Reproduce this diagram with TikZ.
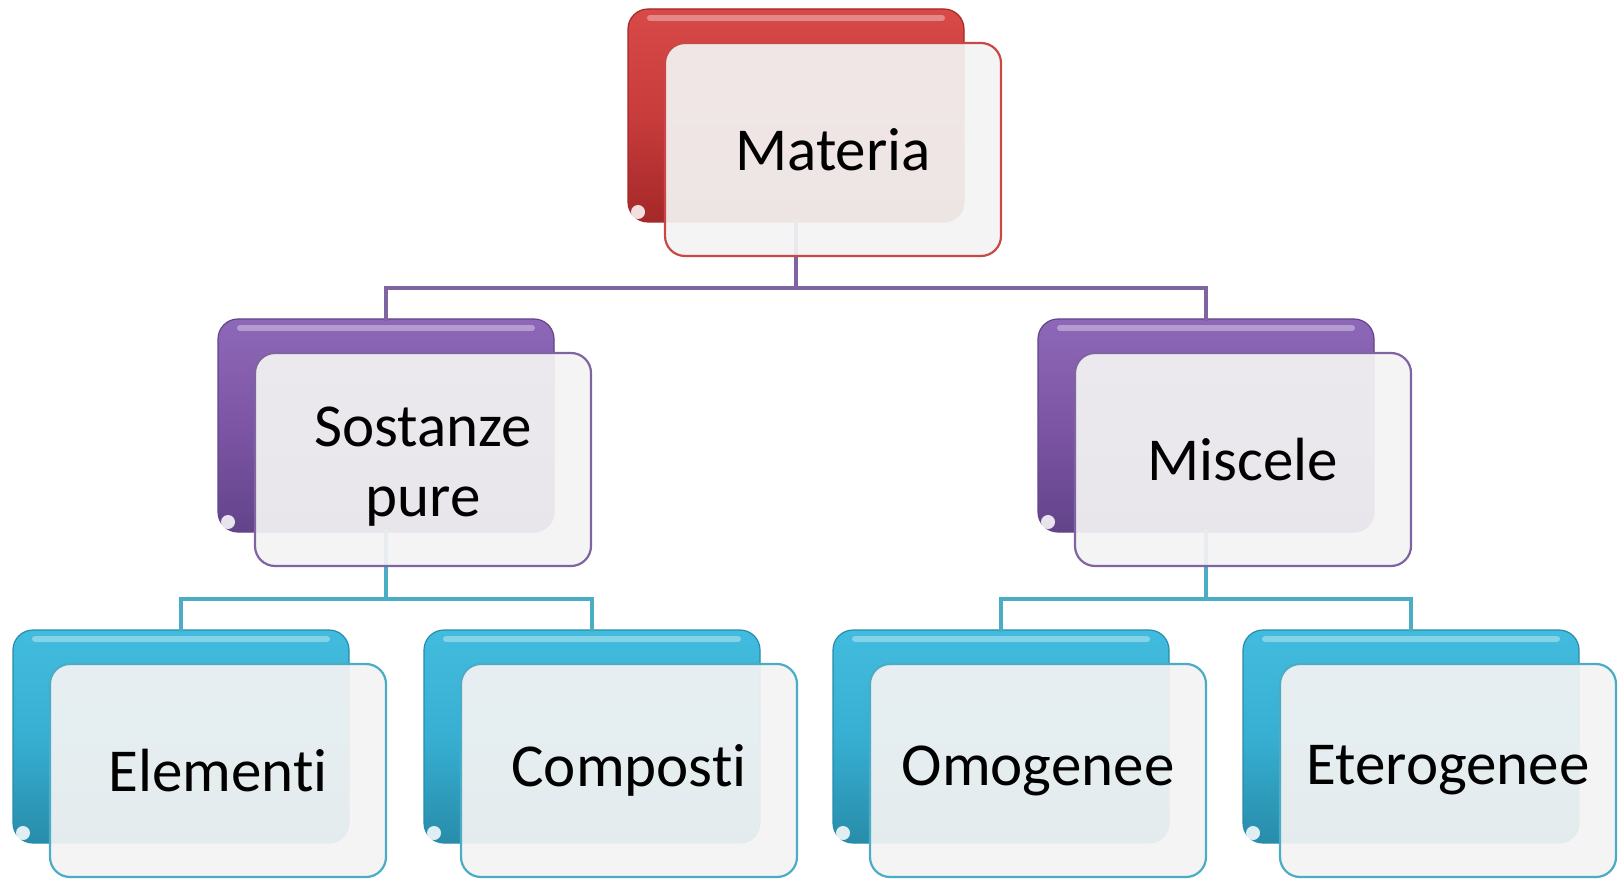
\documentclass[tikz,border=0pt]{standalone}
\usepackage{fontspec}
\setmainfont{Carlito}[Ligatures=NoCommon]
\usetikzlibrary{calc}
\definecolor{rdA}{RGB}{216,74,72}
\definecolor{rdM}{RGB}{200,60,60}
\definecolor{rdB}{RGB}{165,40,40}
\definecolor{rdL}{RGB}{200,72,70}
\definecolor{puA}{RGB}{142,104,184}
\definecolor{puM}{RGB}{125,85,165}
\definecolor{puB}{RGB}{98,68,138}
\definecolor{puL}{RGB}{128,100,162}
\definecolor{cyA}{RGB}{66,188,222}
\definecolor{cyM}{RGB}{55,175,210}
\definecolor{cyB}{RGB}{40,140,170}
\definecolor{cyL}{RGB}{75,172,198}
\definecolor{frontfill}{RGB}{243,243,243}
\tikzset{
  every node/.style={inner sep=0pt, outer sep=0pt},
  backbox/.style={rounded corners=10pt, minimum width=168pt, minimum height=106.5pt,
    draw=#1B, line width=0.6pt, top color=#1A, bottom color=#1B, middle color=#1M},
  frontbox/.style={rounded corners=10pt, minimum width=168pt, minimum height=106.5pt,
    draw=#1L, line width=1.1pt, fill=frontfill, fill opacity=0.93, text opacity=1,
    align=center, font=\fontsize{30.5}{35}\selectfont},
  con/.style={line width=1.8pt, draw=#1, line cap=rect},
  gloss/.style={white, opacity=0.35, line width=3pt, line cap=round},
  spot/.style={white, opacity=0.85}
}
\begin{document}
\begin{tikzpicture}[x=0.5pt, y=-0.5pt]
\useasboundingbox (0,0) rectangle (1620,881);
% back boxes
\node[backbox=rd] (mb) at (796,115.5) {};
\node[backbox=pu] (sb) at (386,425.5) {};
\node[backbox=pu] (xb) at (1206,425.5) {};
\node[backbox=cy] (eb) at (181,736.5) {};
\node[backbox=cy] (cb) at (592,736.5) {};
\node[backbox=cy] (ob) at (1001,736.5) {};
\node[backbox=cy] (tb) at (1411,736.5) {};
% gloss and highlight spots
\foreach \b in {mb,sb,xb,eb,cb,ob,tb}{
  \draw[gloss] ($(\b.north west)+(22,9)$) -- ($(\b.north east)+(-22,9)$);
  \fill[spot] ($(\b.south west)+(10,-10)$) circle (3.5pt);
}
% connectors
\coordinate (bus1) at (796,288);
\draw[con=puL] (mb.south) -- (bus1) -| (sb.north);
\draw[con=puL] (bus1) -| (xb.north);
\coordinate (bus2) at (386,599);
\draw[con=cyL] (sb.south) -- (bus2) -| (eb.north);
\draw[con=cyL] (bus2) -| (cb.north);
\coordinate (bus3) at (1206,599);
\draw[con=cyL] (xb.south) -- (bus3) -| (ob.north);
\draw[con=cyL] (bus3) -| (tb.north);
% front boxes
\node[frontbox=rd] (m) at (833,149.5) {Materia};
\node[frontbox=pu] (s) at (423,459.5) {\raisebox{-4pt}[\height][\depth]{\begin{tabular}{@{}c@{}}Sostanze\\pure\end{tabular}}};
\node[frontbox=pu] (x) at (1243,459.5) {Miscele};
\node[frontbox=cy] (e) at (218,770.5) {Elementi};
\node[frontbox=cy] (c) at (629,770.5) {Composti};
\node[frontbox=cy] (o) at (1038,770.5) {Omogenee};
\node[frontbox=cy] (t) at (1448,770.5) {Eterogenee};
\end{tikzpicture}
\end{document}
